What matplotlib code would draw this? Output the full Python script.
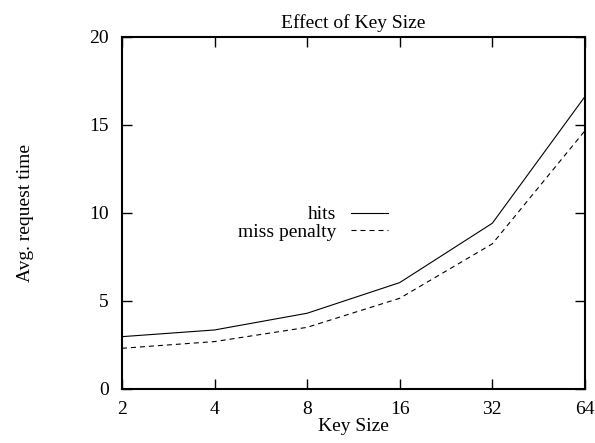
import matplotlib
matplotlib.use("Agg")
import matplotlib.pyplot as plt
from matplotlib.ticker import FixedLocator, FixedFormatter, NullLocator

# values
key_sizes = [2, 4, 8, 16, 32, 64]
hits = [2.97, 3.35, 4.30, 6.04, 9.41, 16.6]
miss_penalty = [2.31, 2.69, 3.50, 5.15, 8.24, 14.66]
y_ticks = [0, 5, 10, 15, 20]

plt.rcParams['font.family'] = ['Liberation Serif', 'DejaVu Serif']
plt.rcParams['font.size'] = 14

fig = plt.figure(figsize=(5.95, 4.43), dpi=100)
ax = fig.add_axes([0.205, 0.122, 0.778, 0.795])

ax.plot(key_sizes, hits, color='black', lw=0.8, label='hits')
ax.plot(key_sizes, miss_penalty, color='black', lw=0.8, dashes=(4.5, 3.6),
        label='miss penalty')

ax.set_xscale('log', base=2)
ax.set_xlim(2, 64)
ax.set_ylim(0, 20)
ax.xaxis.set_major_locator(FixedLocator(key_sizes))
ax.xaxis.set_major_formatter(FixedFormatter([str(k) for k in key_sizes]))
ax.xaxis.set_minor_locator(NullLocator())
ax.set_yticks(y_ticks)

ax.tick_params(direction='in', length=7, width=1, top=True, right=True)
ax.tick_params(axis='x', pad=8.5)
ax.tick_params(axis='y', pad=9.5)
for s in ax.spines.values():
    s.set_linewidth(1.5)

ax.set_title('Effect of Key Size', fontsize=14, pad=6)
ax.set_xlabel('Key Size', labelpad=0)
ax.set_ylabel('Avg. request time', labelpad=40)

ax.legend(loc='center right', bbox_to_anchor=(0.574, 0.47), frameon=False,
          markerfirst=False, handlelength=1.9, labelspacing=0.0,
          handletextpad=0.75, borderpad=0, borderaxespad=0)

fig.savefig('out.png', dpi=100)
